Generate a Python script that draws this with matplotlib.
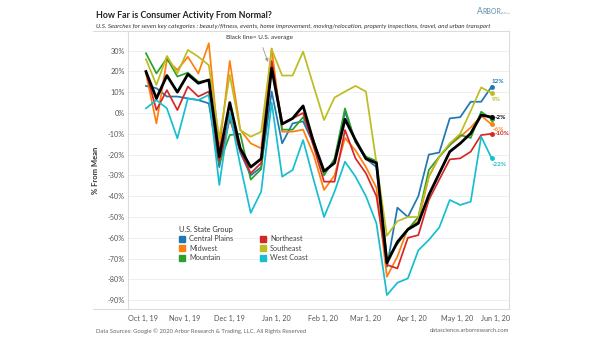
import matplotlib
matplotlib.use('Agg')
import matplotlib.pyplot as plt
from matplotlib.lines import Line2D
from matplotlib.patches import Patch
from matplotlib.transforms import ScaledTranslation
import pandas as pd

# ---------------- data ----------------
dates = pd.date_range('2019-10-06', periods=34, freq='7D')

central_plains = [13, 11.9, 7.9, 7.9, 7, 6.2, 4.6, -26, -1, -19, -30, -26, 10.3, -14.6, -5, -4,
                  -15, -28, -24, 0.6, -14, -22, -26, -74, -45.5, -50, -40, -20, -19, -2.6, -2, 5.4, 5.4, 12.7]
midwest = [19, -5, 25.5, 20.7, 27, 19, 33.5, -18, 25, -8, -14.6, -17, 31, -9, -9, -8,
           -20, -37, -30, -12, -18, -26, -36, -78.7, -69, -55.5, -52, -30.6, -21, -15.4, -11.4, -7, -1.4, -5.5]
mountain = [28.7, 19, 26.3, 17.5, 19.4, 15, 15.5, -24, -10.6, -10, -32, -27, 24, -8, -8, -2,
            -13, -30, -22, 2.2, -14, -21, -23, -70, -63, -56, -50, -27.4, -21, -15.4, -10.6, -12, 0.6, -3]
northeast = [19.9, 1.4, 11, 1.4, 12.7, 7.9, 10.3, -23, -3, -18, -29, -24, 25, -5, -2.6, 0,
             -16, -33, -33, -8.2, -21.8, -29, -40, -73, -74.7, -60, -58.7, -41.8, -32, -22.3, -21.8, -18.6, -10.6, -10]
southeast = [25.8, 13.5, 27.4, 19, 30.3, 27, 23, -12.2, 18.3, -8.2, -11.4, -9, 30.6, 18, 18, 29.5,
             13, -3.4, 7.4, 10.3, 13, 10.3, -24, -59, -52, -50, -50, -30.6, -21, -14.6, -10, 1, 12.3, 9.5]
west_coast = [2.2, 6.2, 2.2, -12.2, 7, 6.2, 8.7, -34.6, 0, -25, -48, -37.8, 5, -30.6, -27.4, -13,
              -32, -50, -37.8, -23.4, -30.6, -40, -53, -87.5, -81.6, -79.5, -66, -61, -55, -41.8, -44.2, -42.6, -11.4, -21.8]
us_average = [19.9, 7, 18, 10, 18.6, 14.3, 15.9, -21, 5, -17, -26, -22, 21.5, -5.3, -2.6, 3.4,
              -14, -28, -24, -3, -13, -22, -24, -72, -62, -56, -53, -39.4, -29, -18.6, -14.6, -9.8, -1, -2]

groups = ['Central Plains', 'Midwest', 'Mountain', 'Northeast', 'Southeast', 'West Coast']
series = [central_plains, midwest, mountain, northeast, southeast, west_coast]
colors = ['#1f77b4', '#ff7f0e', '#2ca02c', '#d62728', '#bcbd22', '#17becf']
y_ticks = [30, 20, 10, 0, -10, -20, -30, -40, -50, -60, -70, -80, -90]

# ---------------- figure ----------------
W, H = 605, 341
fig = plt.figure(figsize=(W / 100, H / 100), dpi=100)
fig.patch.set_facecolor('white')
plt.rcParams['font.family'] = ['Lato', 'DejaVu Sans']


def fx(px):
    return px / W


def fy(py):
    return 1 - py / H


ax = fig.add_axes([fx(128), fy(309), fx(509) - fx(128), fy(31) - fy(309)])

for name, vals, c in zip(groups, series, colors):
    ax.plot(dates, vals, color=c, lw=1.25, label=name, zorder=3)
    ax.plot(dates[-1:], vals[-1:], 'o', color=c, ms=2.5, zorder=4)
ax.plot(dates, us_average, color='black', lw=2.0, zorder=5)
ax.plot(dates[-1:], us_average[-1:], 'o', color='black', ms=2.5, zorder=6)

# end labels (offsets in points)
lab_specs = [
    (central_plains[-1], '12%', colors[0], 0, 3.6),
    (southeast[-1], '9%', colors[4], 0, -4.5),
    (us_average[-1], '-2%', 'black', 2.5, 0),
    (midwest[-1], '-6%', colors[1], 0.5, -3.6),
    (northeast[-1], '-10%', colors[3], 2, 0),
    (west_coast[-1], '-22%', colors[5], 0, -4.3),
]
for v, t, c, dx, dy in lab_specs:
    ax.annotate(t, (dates[-1], v), xytext=(dx, dy), textcoords='offset points',
                fontsize=4.6, color=c, fontweight='bold', ha='left', va='center', zorder=7)

ax.set_xlim(pd.Timestamp('2019-09-24'), pd.Timestamp('2020-06-04 14:00'))
ax.set_ylim(-94.2, 39.4)
ax.set_yticks(y_ticks)
ax.set_yticklabels([f'{t}%' for t in y_ticks])
month_ticks = pd.date_range('2019-10-01', '2020-06-01', freq='MS')
ax.set_xticks(month_ticks)
ax.set_xticklabels([f"{d.strftime('%b')} 1, {d.strftime('%y')}" for d in month_ticks])
ax.tick_params(axis='both', length=0, labelsize=5.2, colors='#555555')
ax.tick_params(axis='x', pad=4)
ax.tick_params(axis='y', pad=2.5)
xl = ax.get_xticklabels()
xl[0].set_transform(xl[0].get_transform() + ScaledTranslation(4.5 / 100, 0, fig.dpi_scale_trans))
xl[-1].set_transform(xl[-1].get_transform() + ScaledTranslation(-8.5 / 100, 0, fig.dpi_scale_trans))

ax.grid(axis='y', color='#efefef', lw=0.7)
ax.set_axisbelow(True)
for s in ax.spines.values():
    s.set_color('#dcdcdc')
    s.set_linewidth(0.8)

ax.set_ylabel('% From Mean', fontsize=5.5, fontweight='bold', color='#333333', labelpad=6)

# frame extensions
fig.add_artist(Line2D([fx(93), fx(128)], [fy(309), fy(309)], color='#dcdcdc', lw=0.8))
fig.add_artist(Line2D([fx(93), fx(128)], [fy(31), fy(31)], color='#dcdcdc', lw=0.8))

# legend
leg = ax.legend(handles=[Patch(facecolor=c, edgecolor=c, label=g) for g, c in zip(groups, colors)],
                loc='upper left', bbox_to_anchor=(fx(175), fy(222)), bbox_transform=fig.transFigure,
                ncol=2, frameon=False, title='U.S. State Group', fontsize=5.3, title_fontsize=5.3,
                handlelength=0.8, handleheight=0.8, handletextpad=0.6, columnspacing=3.6,
                labelspacing=0.35, borderpad=0, alignment='left')
for t in leg.get_texts():
    t.set_color('#444444')
leg.get_title().set_color('#333333')

# annotation
ax.annotate('Black line= U.S. average', xy=(fx(268), fy(62)), xycoords='figure fraction',
            xytext=(fx(259), fy(37)), textcoords='figure fraction', fontsize=4.6, color='#333333',
            ha='center', va='center',
            arrowprops=dict(arrowstyle='-|>', color='#999999', lw=0.6, mutation_scale=5,
                            shrinkA=4, shrinkB=0))

# titles
fig.text(fx(96), fy(15), 'How Far is Consumer Activity From Normal?', fontsize=6.4, fontweight='bold',
         color='#222222', ha='left', va='center')
fig.text(fx(96), fy(26), 'U.S. Searches for seven key categories : beauty/fitness, events, home improvement, '
         'moving/relocation, property inspections, travel, and urban transport', fontsize=4.5,
         style='italic', color='#333333', ha='left', va='center')
fig.text(fx(477), fy(14), 'A', fontsize=6.2, color='#5b8fa8', ha='left', va='baseline')
fig.text(fx(482), fy(14), 'RBOR', fontsize=5.0, color='#5b8fa8', ha='left', va='baseline')
fig.text(fx(500.5), fy(14), 'DATA\nSCIENCE', fontsize=1.7, color='#5b8fa8', ha='left', va='baseline',
         linespacing=1.0)

# footer
fig.text(fx(96), fy(331), 'Data Sources: Google \u00a9 2020 Arbor Research & Trading, LLC. All Rights Reserved',
         fontsize=4.2, color='#666666', ha='left', va='center')
fig.text(fx(509), fy(331), 'datascience.arborresearch.com', fontsize=4.2, color='#666666',
         ha='right', va='center')

fig.savefig('out.png', dpi=100, facecolor='white')
